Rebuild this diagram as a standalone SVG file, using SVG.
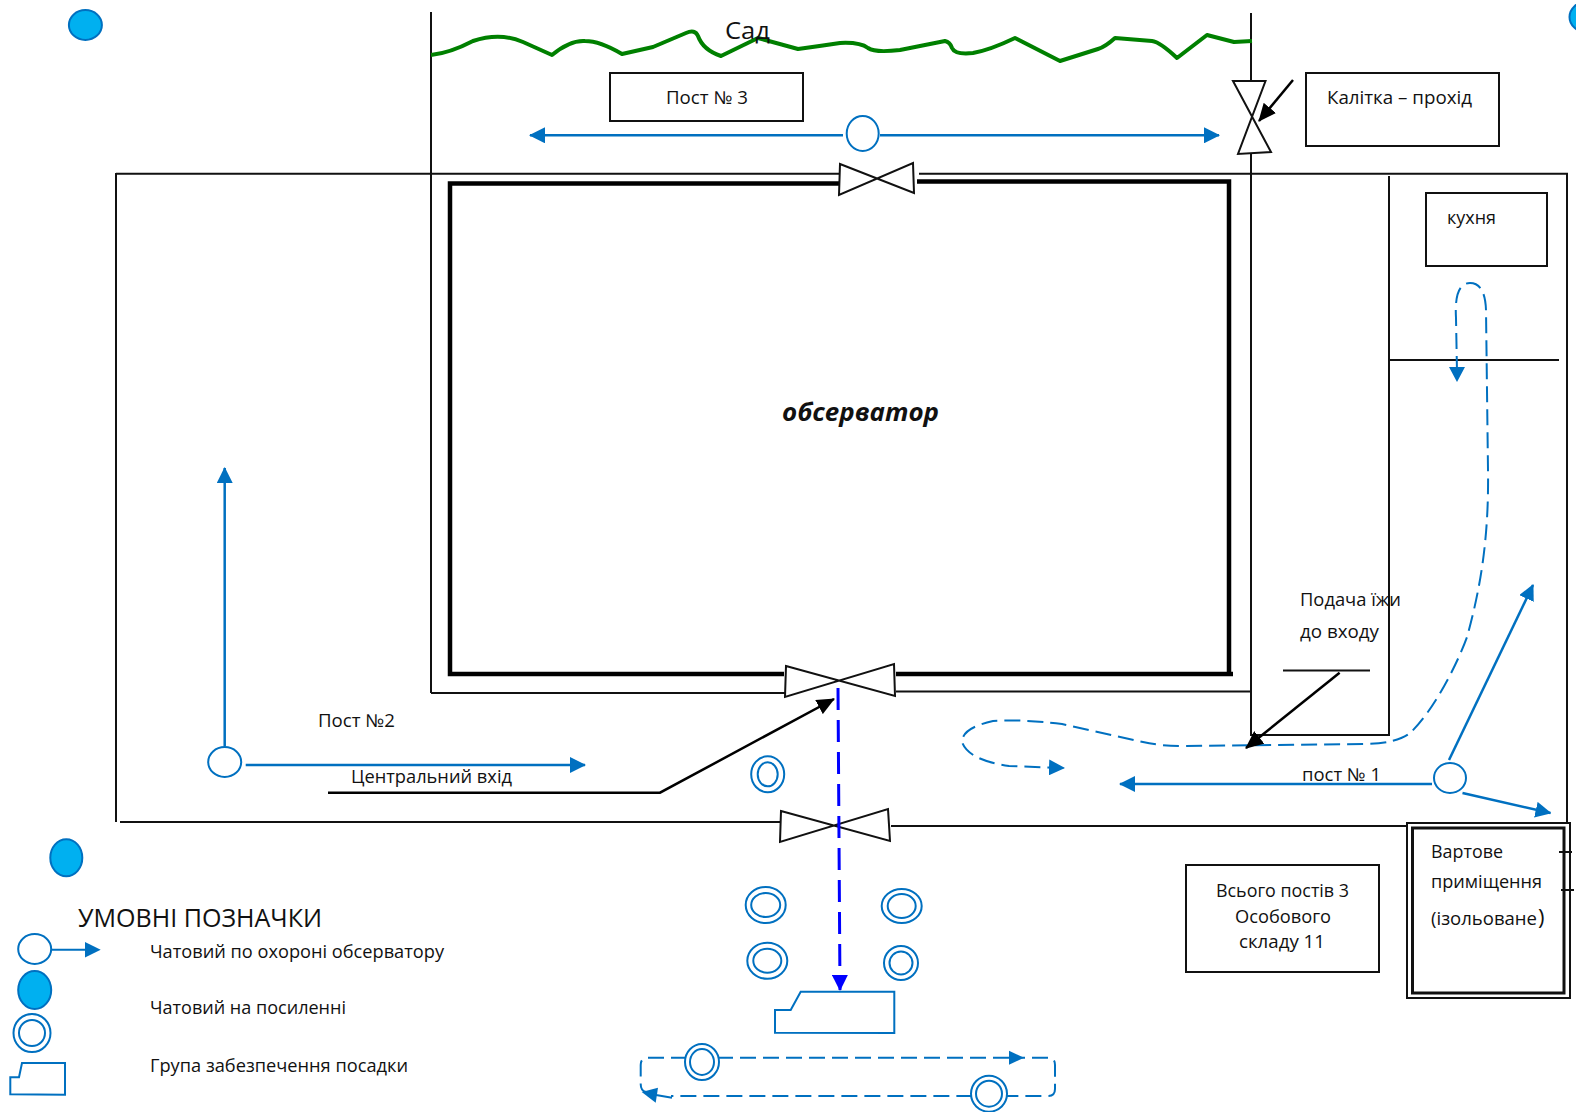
<svg xmlns="http://www.w3.org/2000/svg" width="1576" height="1112" viewBox="0 0 1576 1112">
<style>
text{font-family:"Open Sans","Noto Sans","Liberation Sans",sans-serif;font-size:18px;fill:#111;}
.k{fill:none;stroke:#111;stroke-width:2;}
.box{fill:#fff;stroke:#111;stroke-width:2;}
.tie{fill:#fff;stroke:#111;stroke-width:2;stroke-linejoin:miter;}
.thick{fill:none;stroke:#000;stroke-width:4.5;}
.b{fill:none;stroke:#0070c0;stroke-width:2.5;}
.bm{marker-end:url(#ab);}
.d{fill:none;stroke:#0070c0;stroke-width:2;stroke-dasharray:16 7;}
.o{fill:#fff;stroke:#0070c0;stroke-width:2;}
.f{fill:#00b0f0;stroke:#0070c0;stroke-width:2;}
.r{fill:none;stroke:#0070c0;stroke-width:2;}
.car{fill:#fff;stroke:#0070c0;stroke-width:2;}
</style>
<defs>
<marker id="ab" markerUnits="userSpaceOnUse" viewBox="0 0 16 16" markerWidth="16" markerHeight="16" refX="15" refY="8" orient="auto-start-reverse"><path d="M0 0L16 8L0 16Z" fill="#0070c0"/></marker>
<marker id="ak" markerUnits="userSpaceOnUse" viewBox="0 0 18 16" markerWidth="18" markerHeight="16" refX="17" refY="8" orient="auto"><path d="M0 0L18 8L0 16Z" fill="#000"/></marker>
<marker id="ap" markerUnits="userSpaceOnUse" viewBox="0 0 16 16" markerWidth="16" markerHeight="16" refX="15" refY="8" orient="auto"><path d="M0 0L16 8L0 16Z" fill="#0000ff"/></marker>
</defs>
<rect width="1576" height="1112" fill="#fff"/>

<g id="walls">
<path class="k" d="M431 12V693M431 693H785M896 691.500H1251.500"/>
<path class="k" d="M1251 13V81M1251 154V735H1389V176"/>
<path class="k" d="M116 173.700H840M919 173.700H1567V826M116 173V822"/>
<path class="k" d="M120 822H781M891 826H1407M1389 360H1559"/>
<path class="thick" d="M840 183.500H450V674H784M896 674H1233M1229 674V181.500H917"/>
</g>

<g id="garden">
<path fill="none" stroke="#008000" stroke-width="4" stroke-linejoin="round" d="M431 55Q450 53 473 41Q500 32 523 42L552 55Q570 40 585 41Q600 41 622 54L653 47L686 33Q695 29 698 36Q703 50 721 56L758 38L798 49Q820 46 840 43Q860 42 868 48Q875 53 900 50L945 41Q950 42 952 48Q955 55 973 53Q990 50 1015 38L1060 61L1098 49Q1105 47 1115 38L1152 41Q1160 42 1177 58L1207 35L1234 42L1252 41"/>
<text x="725" y="39" style="font-size:24px" textLength="45" lengthAdjust="spacingAndGlyphs">Сад</text>
</g>

<g id="post3"><rect class="box" x="610" y="73" width="193" height="48"/><text x="666" y="104" textLength="82" lengthAdjust="spacingAndGlyphs">Пост № 3</text></g>
<g id="gate-note"><rect class="box" x="1306" y="73" width="193" height="73"/><text x="1327" y="104" textLength="145" lengthAdjust="spacingAndGlyphs">Калітка – прохід</text></g>
<g id="kitchen"><rect class="box" x="1426" y="193" width="121" height="73"/><text x="1447" y="224" textLength="49" lengthAdjust="spacingAndGlyphs">кухня</text></g>
<g id="observator-label"><text x="782" y="421" style="font-size:25px;font-weight:700;font-style:italic" textLength="157" lengthAdjust="spacingAndGlyphs">обсерватор</text></g>
<g id="food-label"><text x="1300" y="606" textLength="101" lengthAdjust="spacingAndGlyphs">Подача їжи</text><text x="1300" y="638" textLength="79" lengthAdjust="spacingAndGlyphs">до входу</text><path class="k" d="M1283 670.500H1370"/></g>
<g id="post2-label"><text x="318" y="727" textLength="77" lengthAdjust="spacingAndGlyphs">Пост №2</text></g>
<g id="entrance-label"><text x="351" y="783" textLength="161" lengthAdjust="spacingAndGlyphs">Центральний вхід</text></g>
<g id="post1-label"><text x="1302" y="781" textLength="79" lengthAdjust="spacingAndGlyphs">пост № 1</text></g>

<g id="totals"><rect class="box" x="1186" y="865" width="193" height="107"/>
<text x="1216" y="897" textLength="133" lengthAdjust="spacingAndGlyphs">Всього постів 3</text>
<text x="1235" y="923" textLength="96" lengthAdjust="spacingAndGlyphs">Особового</text>
<text x="1239" y="948" textLength="86" lengthAdjust="spacingAndGlyphs">складу 11</text></g>

<g id="guardroom"><rect x="1407" y="823" width="163" height="175" fill="#fff" stroke="#111" stroke-width="2"/><rect x="1412.500" y="828" width="151.500" height="165" fill="#fff" stroke="#111" stroke-width="3"/>
<path class="k" d="M1559 852H1572M1561 890H1574"/>
<text x="1431" y="858" textLength="72" lengthAdjust="spacingAndGlyphs">Вартове</text>
<text x="1431" y="888" textLength="111" lengthAdjust="spacingAndGlyphs">приміщення</text>
<text x="1431" y="925" textLength="106" lengthAdjust="spacingAndGlyphs">(ізольоване</text>
<text x="1538" y="925" style="font-size:22px">)</text></g>

<g id="gate-top"><path class="tie" d="M840 164L914 193L913 163L839 195Z"/></g>
<g id="gate-inner"><path class="tie" d="M786 666L895 696L894 664L785 697Z"/></g>
<g id="gate-outer"><path class="tie" d="M781 811L890 841L888 809L780 842Z"/></g>
<g id="gate-side"><path class="tie" d="M1233 81L1271 152L1238 154L1265.500 81Z"/></g>

<g id="connectors">
<path class="b bm" d="M843 135.300H530"/>
<path class="b bm" d="M880 135.300H1219"/>
<path class="b bm" d="M224.700 746V468"/>
<path class="b bm" d="M245.700 765H585"/>
<path class="b bm" d="M1432 784H1120"/>
<path class="b bm" d="M1449 760L1533 585"/>
<path class="b bm" d="M1462.500 793L1550.500 813"/>
<path class="b" style="marker-end:url(#ab);stroke-width:2" d="M1457 372L1456 318Q1454 283 1470 283Q1485 283 1486 310L1488 470C1489 540 1480 590 1467 637C1455 670 1430 715 1410 733Q1398 743 1366 744L1183 746Q1160 746 1143 742L1062 724Q1020 719 993 721Q962 728 962 742Q968 760 1009 766L1064 768" stroke-dasharray="16 7"/>
<path fill="#0070c0" d="M1449 367H1465L1457 382Z"/>
<path fill="none" stroke="#0000ff" stroke-width="3" stroke-dasharray="22 10" marker-end="url(#ap)" d="M838 688L840 990"/>
<path fill="none" stroke="#000" stroke-width="2.500" marker-end="url(#ak)" d="M328 792.700H660L834 699"/>
<path fill="none" stroke="#000" stroke-width="2.500" marker-end="url(#ak)" d="M1293 80L1259 121"/>
<path fill="none" stroke="#000" stroke-width="2.500" marker-end="url(#ak)" d="M1339.600 672.700L1246 748"/>
<path class="d" d="M1009 1057.700H648Q640.700 1057.700 640.700 1065V1084Q640.700 1091 646 1092"/>
<path class="d" d="M1009 1057.700H1048Q1055 1057.700 1055 1065V1089Q1055 1096 1048 1096H671"/>
<path fill="#0070c0" d="M1009 1050.700V1064.700L1024 1057.700Z"/>
<path fill="#0070c0" d="M641.700 1092L658 1087.700L655.700 1102.700Z"/>
<path class="b" style="stroke-width:2" d="M656 1095L672 1097.700"/>
<path class="b" style="stroke-width:2" d="M51.700 949.700H90"/>
<path fill="#0070c0" d="M85 942V957.500L100.700 949.700Z"/>
</g>

<g id="post3-guard"><ellipse class="o" cx="862.700" cy="133.500" rx="16" ry="17.500"/></g>
<g id="post2-guard"><ellipse class="o" cx="224.700" cy="762" rx="16.500" ry="15"/></g>
<g id="post1-guard"><ellipse class="o" cx="1450" cy="778" rx="16" ry="15"/></g>

<g id="reinforce-1"><ellipse class="f" cx="85.400" cy="25" rx="16.500" ry="15"/></g>
<g id="reinforce-2"><ellipse class="f" cx="1586" cy="17" rx="16.500" ry="15"/></g>
<g id="reinforce-3"><ellipse class="f" cx="66.300" cy="857.700" rx="16" ry="18.500"/></g>

<g id="escort-1"><ellipse class="o" cx="767.700" cy="774.300" rx="16.500" ry="18"/><ellipse class="r" cx="767.700" cy="774.300" rx="10" ry="12"/></g>
<g id="escort-2"><ellipse class="o" cx="765.700" cy="905" rx="20" ry="18"/><ellipse class="r" cx="765.700" cy="905" rx="14.500" ry="12"/></g>
<g id="escort-3"><ellipse class="o" cx="901.700" cy="906" rx="20" ry="17"/><ellipse class="r" cx="901.700" cy="906" rx="14" ry="12"/></g>
<g id="escort-4"><ellipse class="o" cx="767.300" cy="960.700" rx="20" ry="18"/><ellipse class="r" cx="767.300" cy="960.700" rx="14" ry="12"/></g>
<g id="escort-5"><ellipse class="o" cx="901" cy="963" rx="17" ry="17"/><ellipse class="r" cx="901" cy="963" rx="11.500" ry="11.500"/></g>
<g id="escort-6"><ellipse class="o" cx="702" cy="1062" rx="17" ry="18"/><ellipse class="r" cx="702" cy="1062" rx="12" ry="13"/></g>
<g id="escort-7"><ellipse class="o" cx="989" cy="1093.700" rx="18" ry="18"/><ellipse class="r" cx="989" cy="1093.700" rx="13" ry="13"/></g>

<g id="vehicle"><path class="car" d="M775 1010H790.700L800.700 991.700H894.300V1033L775 1032.700Z"/></g>

<g id="legend">
<text x="78" y="927" style="font-size:25px" textLength="244" lengthAdjust="spacingAndGlyphs">УМОВНІ ПОЗНАЧКИ</text>
<ellipse class="o" cx="34.700" cy="949" rx="16.500" ry="15"/>
<ellipse class="f" cx="34.700" cy="990" rx="16.500" ry="19"/>
<ellipse class="o" cx="32" cy="1033" rx="18.500" ry="19"/><ellipse class="r" cx="32" cy="1033" rx="13" ry="13"/>
<path class="car" d="M10.300 1077.300H19L22 1063H65V1094.700L10.300 1094.300Z"/>
<text x="150" y="958" textLength="294" lengthAdjust="spacingAndGlyphs">Чатовий по охороні обсерватору</text>
<text x="150" y="1014" textLength="196" lengthAdjust="spacingAndGlyphs">Чатовий на посиленні</text>
<text x="150" y="1072" textLength="258" lengthAdjust="spacingAndGlyphs">Група забезпечення посадки</text>
</g>
</svg>
